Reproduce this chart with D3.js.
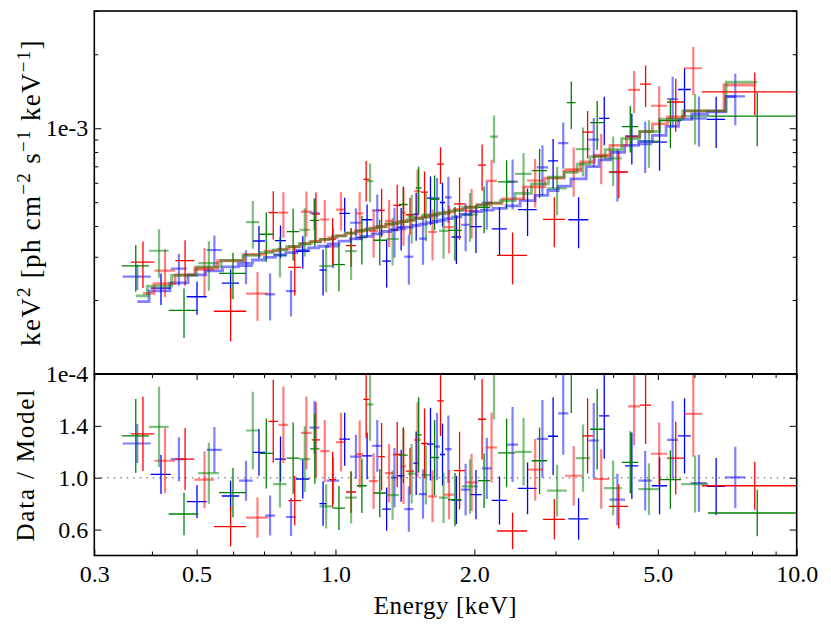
<!DOCTYPE html>
<html><head><meta charset="utf-8">
<script src="https://cdn.jsdelivr.net/npm/d3@7"></script>
<style>
body{margin:0;background:#fff}
svg{display:block}
svg text{font-family:'Liberation Serif','Times New Roman','DejaVu Serif',Times,serif !important;fill:#000}
</style>
</head><body>
<svg id="c" width="831" height="634"></svg>
<script>
// ---------- DATA (energy centre / half width in keV, data/model ratio, ratio error, model in 1e-4 units) ----------
const redE = [0.3825,0.427,0.472,0.520,0.5925,0.6775,0.733,0.771,0.816,0.865,0.907,0.948,0.986,1.028,1.081,1.1285,1.1655,1.21,1.259,1.307,1.361,1.4045,1.451,1.506,1.56,1.6235,1.6895,1.763,1.858,1.973,2.079,2.18,2.421,2.71,2.982,3.285,3.521,3.7685,4.114,4.4415,4.7035,5.034,5.467,5.967,8.11];
const redDE = [0.0225,0.022,0.0225,0.0255,0.0475,0.0375,0.018,0.019,0.026,0.023,0.019,0.022,0.0165,0.026,0.027,0.0205,0.0165,0.028,0.021,0.027,0.026,0.0175,0.029,0.026,0.027,0.0365,0.0295,0.044,0.051,0.064,0.042,0.06,0.181,0.108,0.164,0.139,0.097,0.150,0.195,0.1325,0.1295,0.201,0.232,0.268,1.88];
const redRatio = [1.338,1.131,1.143,0.985,0.623,0.692,1.435,1.408,0.823,1.346,1.292,1.205,0.985,1.274,0.89,1.182,1.605,0.974,1.162,1.035,1.179,1.087,1.051,1.292,1.264,0.856,1.592,0.869,1.054,0.964,1.451,1.233,0.589,1.062,0.679,1.015,1.323,0.99,0.779,1.551,1.56,1.185,1.151,1.492,0.938];
const redErr = [0.287,0.25,0.24,0.22,0.154,0.156,0.32,0.295,0.19,0.28,0.29,0.24,0.215,0.227,0.16,0.26,0.3,0.215,0.26,0.225,0.25,0.29,0.18,0.29,0.27,0.2,0.27,0.19,0.3,0.22,0.31,0.27,0.14,0.237,0.156,0.23,0.29,0.23,0.17,0.3,0.3,0.24,0.28,0.33,0.185];
const redModel = [2.13,2.33,2.53,2.70,2.89,3.07,3.16,3.22,3.30,3.40,3.46,3.53,3.59,3.66,3.74,3.81,3.86,3.92,3.99,4.06,4.12,4.17,4.23,4.29,4.35,4.42,4.49,4.56,4.67,4.78,4.88,4.95,5.16,5.77,6.27,6.71,7.29,7.78,8.52,9.23,9.69,10.42,11.11,11.76,15.0];

const greenE = [0.369,0.4145,0.4695,0.5315,0.5995,0.662,0.708,0.758,0.8095,0.858,0.902,0.9545,1.0175,1.081,1.141,1.1885,1.2475,1.33,1.4035,1.463,1.515,1.5705,1.64,1.7155,1.816,1.9575,2.10,2.207,2.35,2.557,2.77,3.024,3.2455,3.441,3.693,3.999,4.3565,4.7835,5.3225,6.02,8.212];
const greenDE = [0.025,0.0205,0.0345,0.0275,0.0405,0.022,0.024,0.026,0.0255,0.023,0.021,0.0315,0.0315,0.032,0.028,0.0195,0.0395,0.043,0.0305,0.0295,0.023,0.0325,0.037,0.0385,0.062,0.0795,0.063,0.044,0.10,0.107,0.106,0.149,0.073,0.123,0.129,0.177,0.1805,0.2465,0.2925,0.404,1.788];
const greenRatio = [1.323,1.392,0.72,1.035,0.885,1.364,1.187,0.951,1.151,1.143,1.223,0.779,0.766,0.846,0.938,1.566,0.882,0.866,1.174,1.031,1.331,1.02,1.156,0.846,0.831,0.933,0.977,1.86,1.192,1.2,1.131,0.9,1.92,1.151,1.374,0.92,1.118,0.912,0.985,0.951,0.728];
const greenErr = [0.285,0.31,0.164,0.235,0.19,0.3,0.27,0.18,0.275,0.254,0.27,0.17,0.17,0.2,0.21,0.28,0.186,0.19,0.215,0.23,0.29,0.227,0.29,0.195,0.205,0.21,0.21,0.41,0.265,0.26,0.256,0.2,0.42,0.26,0.31,0.21,0.24,0.2,0.225,0.22,0.18];
const greenModel = [2.08,2.28,2.52,2.73,2.90,3.04,3.12,3.20,3.30,3.38,3.45,3.53,3.64,3.74,3.83,3.89,3.97,4.09,4.17,4.24,4.30,4.37,4.44,4.52,4.62,4.77,4.88,4.97,5.08,5.43,5.94,6.32,6.62,7.14,7.67,8.19,9.08,9.7,10.9,11.76,15.4];

const blueE = [0.3717,0.4185,0.4577,0.5009,0.5464,0.5924,0.6398,0.6826,0.7215,0.760,0.801,0.8494,0.9004,0.94,0.988,1.047,1.1075,1.171,1.232,1.291,1.3425,1.388,1.4425,1.496,1.548,1.607,1.66,1.7065,1.757,1.829,1.915,2.0165,2.1285,2.268,2.421,2.609,2.81,2.964,3.118,3.366,3.631,3.8265,4.085,4.391,4.6935,5.0425,5.383,5.712,6.138,6.689,7.36];
const blueDE = [0.026,0.021,0.0183,0.025,0.0205,0.0256,0.0219,0.0209,0.018,0.021,0.020,0.0284,0.0226,0.017,0.031,0.028,0.0325,0.031,0.031,0.028,0.0235,0.022,0.0325,0.021,0.031,0.028,0.025,0.0215,0.029,0.043,0.043,0.0585,0.0535,0.086,0.0665,0.122,0.079,0.074,0.08,0.168,0.097,0.0985,0.16,0.146,0.1565,0.1925,0.148,0.181,0.245,0.306,0.365];
const blueRatio = [1.264,1.025,1.143,0.815,1.215,0.859,0.977,1.195,0.708,1.143,0.697,0.99,1.387,0.80,0.977,1.297,1.162,1.169,1.246,0.758,1.0,1.015,0.758,1.112,0.874,1.259,1.24,1.179,1.22,0.828,0.908,0.869,1.072,0.825,1.256,0.918,1.3,1.32,1.497,0.682,1.287,1.477,0.831,1.092,0.977,0.938,1.292,1.323,0.958,0.933,1.002];
const blueErr = [0.15,0.15,0.17,0.126,0.177,0.118,0.154,0.18,0.154,0.174,0.147,0.15,0.205,0.17,0.18,0.205,0.17,0.18,0.2,0.167,0.23,0.2,0.175,0.245,0.19,0.28,0.26,0.24,0.26,0.185,0.2,0.19,0.237,0.185,0.29,0.2,0.3,0.3,0.32,0.16,0.29,0.33,0.2,0.256,0.23,0.22,0.3,0.29,0.22,0.22,0.237];
const blueModel = [1.97,2.18,2.35,2.53,2.63,2.73,2.82,2.91,2.98,3.05,3.12,3.19,3.26,3.31,3.38,3.47,3.55,3.63,3.72,3.80,3.86,3.90,3.96,4.02,4.07,4.13,4.18,4.23,4.29,4.36,4.46,4.58,4.64,4.72,4.83,5.08,5.33,5.58,5.81,6.22,6.98,7.43,7.97,8.51,8.81,9.36,10.18,10.87,11.43,11.65,13.45];

const xTickLabels = [0.3,0.5,1.0,2.0,5.0,10.0];
const xMinorTicks = [0.4,0.6,0.7,0.8,0.9,3,4,6,7,8,9];
const yTopMajor = [1e-4,1e-3];
const yTopMajorLabels = ["1e-4","1e-3"];
const yTopMinor = [2e-4,3e-4,4e-4,5e-4,6e-4,7e-4,8e-4,9e-4,2e-3,3e-3];
const yBotTicks = [0.6,1.0,1.4];

// ---------- LAYOUT ----------
const FONT = "'Liberation Serif','Times New Roman','DejaVu Serif',Times,serif";
const L=94.3, R=796.7, T1=11, B1=374, T2=374, B2=555.5;
const svg = d3.select("#c");
const x = d3.scaleLog().domain([0.3,10]).range([L,R]);
const yT = d3.scaleLog().domain([1e-4,3e-3]).range([B1,T1]);
const yB = d3.scaleLinear().domain([0.4,1.8]).range([B2,T2]);

const series = [
  {name:"blue", color:"#0000ff", E:blueE, dE:blueDE, r:blueRatio, e:blueErr, m:blueModel, off:0},
  {name:"red", color:"#ff0000", E:redE, dE:redDE, r:redRatio, e:redErr, m:redModel, off:1},
  {name:"green", color:"#008000", E:greenE, dE:greenDE, r:greenRatio, e:greenErr, m:greenModel, off:1}
].map(s => ({...s, pts: s.E.map((E,i)=>({E, dE:s.dE[i], r:s.r[i], e:s.e[i], m:s.m[i]*1e-4, i}))}));

const defs = svg.append("defs");
defs.append("clipPath").attr("id","clipT").append("rect").attr("x",L).attr("y",T1).attr("width",R-L).attr("height",B1-T1);
defs.append("clipPath").attr("id","clipB").append("rect").attr("x",L).attr("y",T2).attr("width",R-L).attr("height",B2-T2);

const gT = svg.append("g").attr("clip-path","url(#clipT)");
const gB = svg.append("g").attr("clip-path","url(#clipB)");

// dotted unity line
gB.append("line").attr("x1",L).attr("x2",R).attr("y1",yB(1)).attr("y2",yB(1))
  .attr("stroke","#8a8a8a").attr("stroke-width",1.4).attr("stroke-dasharray","1.5 5");

function styleFor(s,i){
  const light = (i + s.off) % 2 === 0;
  return light ? {op:0.5, w:2.2} : {op:1, w:1.3};
}

// error bars
series.forEach(s=>{
  const top = gT.append("g");
  const bot = gB.append("g");
  s.pts.forEach(p=>{
    const st = styleFor(s,p.i);
    const v = p.r*p.m, ev = p.e*p.m;
    const gt = top.append("g").attr("stroke",s.color).attr("stroke-opacity",st.op).attr("stroke-width",st.w);
    gt.append("line").attr("x1",x(p.E-p.dE)).attr("x2",x(p.E+p.dE)).attr("y1",yT(v)).attr("y2",yT(v));
    gt.append("line").attr("x1",x(p.E)).attr("x2",x(p.E)).attr("y1",yT(Math.max(v-ev,1e-5))).attr("y2",yT(v+ev));
    const gb = bot.append("g").attr("stroke",s.color).attr("stroke-opacity",st.op).attr("stroke-width",st.w);
    gb.append("line").attr("x1",x(p.E-p.dE)).attr("x2",x(p.E+p.dE)).attr("y1",yB(p.r)).attr("y2",yB(p.r));
    gb.append("line").attr("x1",x(p.E)).attr("x2",x(p.E)).attr("y1",yB(p.r-p.e)).attr("y2",yB(p.r+p.e));
  });
});

// model step lines
const line = d3.line().x(d=>x(d.E)).y(d=>yT(d.m)).curve(d3.curveStep);
series.forEach(s=>{
  gT.append("path").datum(s.pts).attr("d",line).attr("fill","none")
    .attr("stroke",s.color).attr("stroke-opacity",0.5).attr("stroke-width",2.8);
});

// axes
function clean(g){
  g.select(".domain").remove();
  g.attr("font-family",FONT).attr("font-size",24);
  g.selectAll(".tick line").attr("stroke","#000").attr("stroke-width",1);
  g.selectAll("text").style("font-family",FONT).style("font-size","24px").attr("fill","#000");
}
svg.append("g").attr("transform",`translate(${L},0)`)
  .call(d3.axisLeft(yT).tickValues(yTopMajor).tickFormat((d,i)=>yTopMajorLabels[i]).tickSize(-7).tickPadding(6)).call(clean);
svg.append("g").attr("transform",`translate(${L},0)`)
  .call(d3.axisLeft(yT).tickValues(yTopMinor).tickFormat("").tickSize(-4)).call(clean);
svg.append("g").attr("transform",`translate(${R},0)`)
  .call(d3.axisRight(yT).tickValues(yTopMajor).tickFormat("").tickSize(-7)).call(clean);
svg.append("g").attr("transform",`translate(${R},0)`)
  .call(d3.axisRight(yT).tickValues(yTopMinor).tickFormat("").tickSize(-4)).call(clean);
svg.append("g").attr("transform",`translate(${L},0)`)
  .call(d3.axisLeft(yB).tickValues(yBotTicks).tickFormat(d3.format(".1f")).tickSize(-7).tickPadding(6)).call(clean);
svg.append("g").attr("transform",`translate(${R},0)`)
  .call(d3.axisRight(yB).tickValues(yBotTicks).tickFormat("").tickSize(-7)).call(clean);
svg.append("g").attr("transform",`translate(0,${B2})`)
  .call(d3.axisBottom(x).tickValues(xTickLabels).tickFormat(d3.format(".1f")).tickSize(-6).tickPadding(9)).call(clean);
svg.append("g").attr("transform",`translate(0,${B2})`)
  .call(d3.axisBottom(x).tickValues(xMinorTicks).tickFormat("").tickSize(-4)).call(clean);
svg.append("g").attr("transform",`translate(0,${T2})`)
  .call(d3.axisTop(x).tickValues(xTickLabels).tickFormat("").tickSize(-6)).call(clean);
svg.append("g").attr("transform",`translate(0,${T2})`)
  .call(d3.axisTop(x).tickValues(xMinorTicks).tickFormat("").tickSize(-4)).call(clean);

// frames
svg.append("rect").attr("x",L).attr("y",T1).attr("width",R-L).attr("height",B1-T1)
  .attr("fill","none").attr("stroke","#000").attr("stroke-width",1.6);
svg.append("rect").attr("x",L).attr("y",T2).attr("width",R-L).attr("height",B2-T2)
  .attr("fill","none").attr("stroke","#000").attr("stroke-width",1.6);
svg.append("line").attr("x1",L).attr("x2",R).attr("y1",T2).attr("y2",T2).attr("stroke","#000").attr("stroke-width",2.2);

// labels
svg.append("text").attr("x",(L+R)/2).attr("y",614).attr("text-anchor","middle")
  .style("font-family",FONT).style("font-size","25px").attr("letter-spacing","0.6px").text("Energy [keV]");
svg.append("text").attr("transform",`translate(34,${(T2+B2)/2}) rotate(-90)`).attr("text-anchor","middle")
  .style("font-family",FONT).style("font-size","25px").attr("letter-spacing","1.8px").text("Data / Model");
const yl = svg.append("text").attr("transform",`translate(40,${(T1+B1)/2}) rotate(-90)`).attr("text-anchor","middle")
  .style("font-family",FONT).style("font-size","27px").attr("letter-spacing","1.3px");
const parts = [["keV",0],["2",1],[" [ph cm",0],["\u22122",1],[" s",0],["\u22121",1],[" keV",0],["\u22121",1],["]",0]];
let prevSup = false;
parts.forEach(([t,sup])=>{
  const ts = yl.append("tspan").text(t);
  if(sup){ ts.style("font-size","19px").attr("dy", prevSup? 0 : -10); }
  else { ts.attr("dy", prevSup? 10 : 0); }
  prevSup = !!sup;
});
</script>
</body></html>
